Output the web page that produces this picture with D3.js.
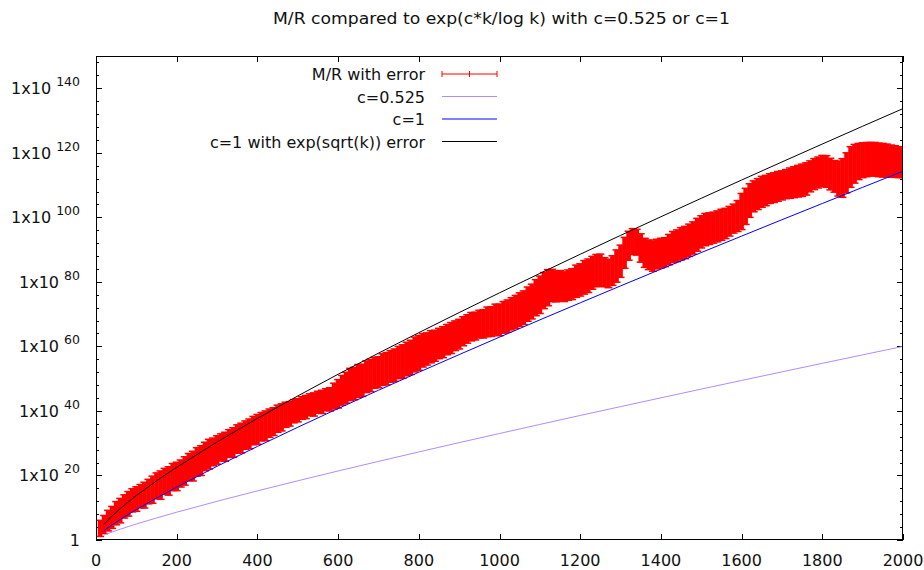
<!DOCTYPE html>
<html><head><meta charset="utf-8">
<script src="https://cdn.jsdelivr.net/npm/d3@7"></script>
<style>
body{margin:0;background:#fff}
text{font-family:"DejaVu Sans",Verdana,sans-serif;fill:#111}
</style>
</head><body>
<svg id="chart" width="924" height="570"></svg>
<script>
// ---------- data ----------
const titleText = "M/R compared to exp(c*k/log k) with c=0.525 or c=1";
const xTicks = [0,200,400,600,800,1000,1200,1400,1600,1800,2000];
const yTickExps = [0,20,40,60,80,100,120,140];
const legendLabels = ["M/R with error","c=0.525","c=1","c=1 with exp(sqrt(k)) error"];

// curves: k and log10 of value
const curveK     = [20,30,40,60,80,100,150,200,300,400,500,600,700,800,900,1000,1100,1200,1300,1400,1500,1600,1700,1800,1900,2000];
const c0525Exp   = [1.52,2.01,2.47,3.34,4.16,4.95,6.83,8.61,11.99,15.22,18.34,21.39,24.36,27.29,30.17,33.01,35.81,38.59,41.34,44.06,46.77,49.45,52.11,54.75,57.38,59.99];
const c1Exp      = [2.90,3.83,4.71,6.36,7.93,9.43,13.00,16.39,22.84,28.99,34.94,40.74,46.41,51.98,57.46,62.87,68.22,73.50,78.74,83.93,89.08,94.18,99.26,104.29,109.30,114.27];
const c1SqrtExp  = [4.84,6.21,7.46,9.73,11.81,13.77,18.32,22.54,30.37,37.68,44.65,51.37,57.90,64.26,70.49,76.60,82.62,88.55,94.40,100.18,105.90,111.56,117.16,122.72,128.23,133.70];

// M/R measurements: k, log10(M/R), log10 error half-width (decades)
const mrK = [10,20,30,40,50,60,70,80,90,100,110,120,130,140,150,160,170,180,190,200,
210,220,230,240,250,260,270,280,290,300,310,320,330,340,350,360,370,380,390,400,
410,420,430,440,450,460,470,480,490,500,510,520,530,540,550,560,570,580,590,600,
610,620,630,640,650,660,670,680,690,700,710,720,730,740,750,760,770,780,790,800,
810,820,830,840,850,860,870,880,890,900,910,920,930,940,950,960,970,980,990,1000,
1010,1020,1030,1040,1050,1060,1070,1080,1090,1100,1110,1120,1130,1140,1150,1160,1170,1180,1190,1200,
1210,1220,1230,1240,1250,1260,1270,1280,1290,1300,1310,1320,1330,1340,1350,1360,1370,1380,1390,1400,
1410,1420,1430,1440,1450,1460,1470,1480,1490,1500,1510,1520,1530,1540,1550,1560,1570,1580,1590,1600,
1610,1620,1630,1640,1650,1660,1670,1680,1690,1700,1710,1720,1730,1740,1750,1760,1770,1780,1790,1800,
1810,1820,1830,1840,1850,1860,1870,1880,1890,1900,1910,1920,1930,1940,1950,1960,1970,1980,1990,2000];
const mrExp = [3.6,4.8,6.0,7.0,8.3,9.1,10.4,11.2,12.3,12.7,13.6,13.9,15.0,15.6,16.8,17.0,18.2,18.3,19.5,19.7,
20.6,21.4,22.6,22.9,24.2,24.6,25.9,26.6,27.3,27.9,28.7,28.9,29.9,30.2,31.3,31.6,32.5,32.9,33.9,34.3,
35.1,35.4,36.2,36.7,37.6,38.0,38.8,39.1,39.9,40.2,40.9,41.2,41.9,42.0,42.7,42.8,43.5,43.6,44.6,45.3,
46.4,47.2,48.2,48.5,49.3,49.5,50.6,51.0,51.8,52.0,52.8,53.1,53.8,54.2,55.0,55.3,56.1,56.6,57.5,58.0,
58.8,59.2,59.9,60.2,60.9,61.3,62.1,62.6,63.3,63.8,64.7,65.4,66.1,66.3,66.9,67.0,67.6,67.7,68.3,68.2,
69.0,69.4,70.1,70.7,71.4,72.0,73.1,73.9,75.1,76.0,77.3,78.2,78.9,78.6,78.8,78.5,79.0,79.3,80.2,80.6,
81.4,81.9,82.8,83.5,83.6,83.0,82.6,83.5,84.9,86.4,89.0,91.2,92.5,92.3,90.5,89.0,88.4,88.0,88.6,88.9,
89.2,90.0,90.8,91.2,91.8,92.2,92.9,93.6,94.6,95.5,96.2,96.5,96.8,97.2,97.7,98.1,98.8,99.6,100.4,101.8,
103.4,105.2,106.5,107.2,107.9,108.3,108.9,109.2,109.6,109.9,110.3,110.6,110.9,111.2,111.5,111.9,112.7,113.4,113.9,114.4,
114.2,113.4,112.7,112.0,112.2,113.8,115.6,116.6,117.3,117.7,117.9,118.0,118.0,117.8,117.7,117.6,117.4,117.3,117.1,116.9];
const mrErr = [2.5,2.8,3.2,3.4,3.6,3.8,3.6,3.8,3.6,3.8,3.6,4.0,3.8,4.2,4.0,4.4,4.0,4.4,4.2,4.4,
4.2,4.4,4.2,4.6,4.4,4.6,4.4,4.6,4.3,4.4,4.2,4.5,4.3,4.6,4.4,4.6,4.4,4.6,4.4,4.6,
4.4,4.6,4.4,4.3,4.2,4.2,3.9,3.8,3.6,3.6,3.5,3.6,3.4,3.6,3.4,3.6,3.4,3.6,4.0,4.4,
4.6,4.8,5.0,5.0,5.1,5.0,4.9,5.0,4.8,4.8,4.9,5.0,4.9,5.0,5.0,5.2,5.2,5.3,5.4,5.4,
5.2,5.0,5.0,4.8,4.7,4.8,4.7,4.8,4.6,4.6,4.5,4.4,4.4,4.3,4.3,4.4,4.6,4.6,4.8,4.9,
4.9,5.0,5.0,5.1,5.2,5.2,5.3,5.4,5.6,5.8,5.6,5.6,5.0,4.8,4.7,4.6,4.7,4.8,5.0,5.0,
5.2,5.2,5.1,5.0,5.0,4.5,4.4,4.6,5.0,5.0,4.8,4.5,4.0,4.0,4.4,4.5,4.6,4.7,4.6,4.6,
4.5,4.7,4.8,4.9,5.0,5.0,5.0,5.0,5.1,5.0,5.0,4.9,4.8,4.8,4.8,4.7,4.6,4.5,4.8,5.6,
5.6,5.2,4.8,4.8,4.8,4.7,4.6,4.6,4.6,4.5,4.5,4.7,4.8,4.9,5.0,5.0,4.8,4.8,4.8,4.8,
4.9,4.9,4.9,5.4,6.0,6.2,6.3,6.0,5.6,5.4,5.3,5.2,5.2,5.2,5.2,5.1,5.0,4.9,4.8,4.6];

// ---------- layout ----------
const L = 96, R = 903, T = 56, B = 540;
const svg = d3.select("#chart");
const x = d3.scaleLinear().domain([0,2000]).range([L,R]);
const y = d3.scaleLog().domain([1,1e150]).range([B,T]);
const p10 = e => Math.pow(10,e);

svg.append("defs").append("clipPath").attr("id","clip")
  .append("rect").attr("x",L).attr("y",T).attr("width",R-L).attr("height",B-T);

// title
svg.append("text").attr("x",501.5).attr("y",24).attr("text-anchor","middle")
  .attr("textLength",457).attr("lengthAdjust","spacingAndGlyphs")
  .style("font-size","15px").text(titleText);

// ticks (major + minor, mirrored)
const g = svg.append("g").attr("stroke","#000").attr("stroke-width",1).attr("shape-rendering","crispEdges");
xTicks.forEach(v=>{
  const px = Math.round(x(v))+0.5;
  g.append("line").attr("x1",px).attr("x2",px).attr("y1",B).attr("y2",B-6);
  g.append("line").attr("x1",px).attr("x2",px).attr("y1",T).attr("y2",T+6);
});
const minorExps = d3.range(0,151,4).filter(e=>e%20!==0);
yTickExps.forEach(e=>{
  const py = Math.round(y(p10(e)))+0.5;
  g.append("line").attr("x1",L).attr("x2",L+6).attr("y1",py).attr("y2",py);
  g.append("line").attr("x1",R).attr("x2",R-6).attr("y1",py).attr("y2",py);
});
minorExps.forEach(e=>{
  const py = Math.round(y(p10(e)))+0.5;
  g.append("line").attr("x1",L).attr("x2",L+3).attr("y1",py).attr("y2",py);
  g.append("line").attr("x1",R).attr("x2",R-3).attr("y1",py).attr("y2",py);
});

// tick labels
xTicks.forEach(v=>{
  svg.append("text").attr("x",x(v)).attr("y",566).attr("text-anchor","middle")
    .style("font-size","16px").text(v);
});
yTickExps.forEach(e=>{
  const py = y(p10(e));
  const t = svg.append("text").attr("x",80).attr("y",py+6).attr("text-anchor","end").style("font-size","16px");
  if(e===0){ t.text("1"); }
  else {
    t.append("tspan").text("1x10 ");
    t.append("tspan").attr("dy",-8).style("font-size","12.5px").text(e);
  }
});

// plot area content
const plot = svg.append("g").attr("clip-path","url(#clip)");

// red error bars
const mr = mrK.map((k,i)=>({k, c:mrExp[i], h:mrErr[i]}));
const bars = plot.append("g").attr("stroke","#ff0000").attr("stroke-width",4.6);
mr.forEach(d=>{
  const px = x(d.k), y1 = y(p10(d.c+d.h)), y2 = y(p10(d.c-d.h));
  bars.append("line").attr("x1",px).attr("x2",px).attr("y1",y1).attr("y2",y2);
  bars.append("line").attr("x1",px-4).attr("x2",px+4).attr("y1",y1).attr("y2",y1).attr("stroke-width",1.5);
  bars.append("line").attr("x1",px-4).attr("x2",px+4).attr("y1",y2).attr("y2",y2).attr("stroke-width",1.5);
});

const line = d3.line().x(d=>x(d[0])).y(d=>y(p10(d[1])));
const curves = [
  {vals:c0525Exp, color:"#b08cff"},
  {vals:c1Exp, color:"#0000ff"},
  {vals:c1SqrtExp, color:"#000000"}
];
curves.forEach(cv=>{
  plot.append("path").datum(curveK.map((k,i)=>[k,cv.vals[i]]))
    .attr("d",line).attr("fill","none").attr("stroke",cv.color).attr("stroke-width",1);
});

// border
svg.append("rect").attr("x",L+0.5).attr("y",T+0.5).attr("width",R-L-1).attr("height",B-T-1)
  .attr("fill","none").attr("stroke","#000").attr("stroke-width",1).attr("shape-rendering","crispEdges");

// legend
const legY = [74,96.5,119,141.5];
const legColors = ["#ff0000","#b08cff","#0000ff","#000000"];
legendLabels.forEach((lab,i)=>{
  svg.append("text").attr("x",425).attr("y",legY[i]+6).attr("text-anchor","end")
    .style("font-size","16px").text(lab);
  svg.append("line").attr("x1",442).attr("x2",497).attr("y1",legY[i]).attr("y2",legY[i])
    .attr("stroke",legColors[i]).attr("stroke-width",1);
});
[442,469.5,497].forEach(px=>{
  svg.append("line").attr("x1",px).attr("x2",px).attr("y1",legY[0]-3).attr("y2",legY[0]+3)
    .attr("stroke","#ff0000").attr("stroke-width",1);
});
</script>
</body></html>
